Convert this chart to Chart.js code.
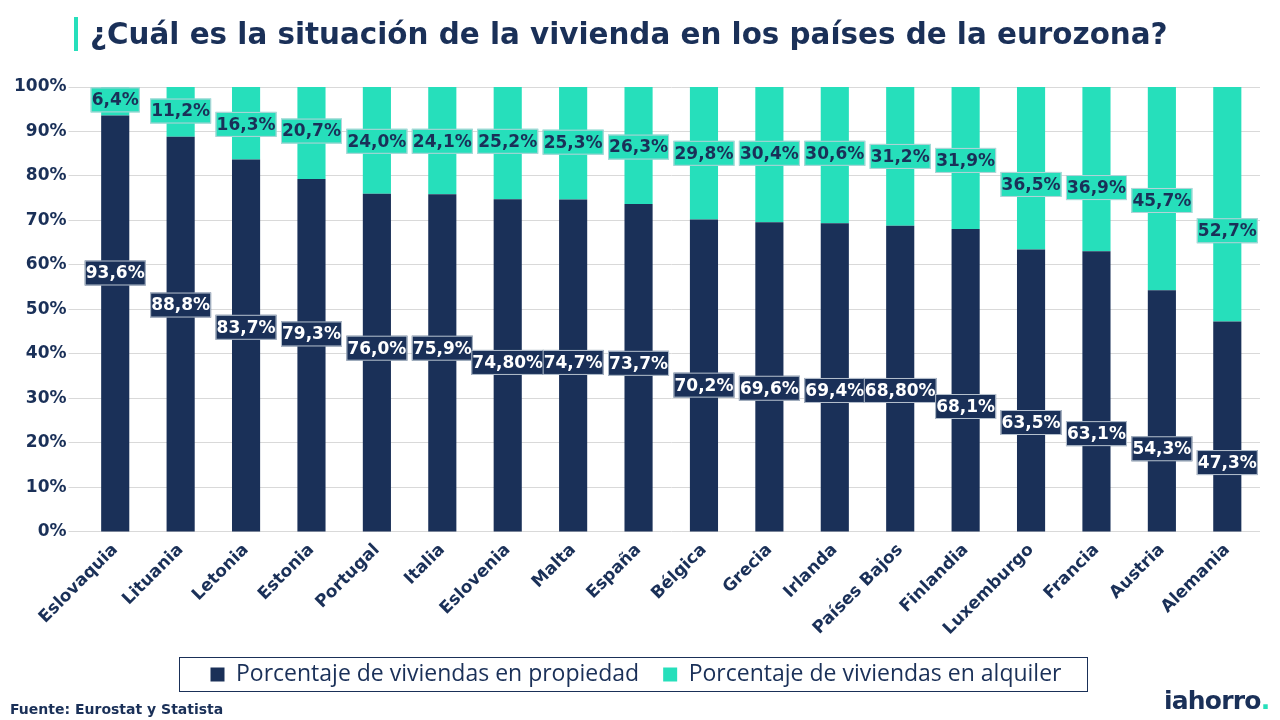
<!DOCTYPE html>
<html>
<head>
<meta charset="utf-8">
<script src="https://cdn.jsdelivr.net/npm/chart.js@4/dist/chart.umd.min.js"></script>
<style>
  html, body { margin: 0; padding: 0; background: #fff; }
  #wrap { position: relative; width: 1280px; height: 720px; overflow: hidden; }
  #chart1 { position: absolute; left: 0; top: 0; }
  #title {
    position: absolute; left: 74px; top: 17px;
    font: bold 29.4px "DejaVu Sans", sans-serif; color: #1a3058;
    border-left: 4px solid #26dfbb; padding-left: 12px; line-height: 34px;
  }
  #source {
    position: absolute; left: 10px; top: 701px;
    font: bold 14px "DejaVu Sans", sans-serif; color: #1a3058;
  }
  #logo {
    position: absolute; left: 1164px; top: 686px;
    font: bold 25px "DejaVu Sans", sans-serif; color: #1a3058; letter-spacing: -0.8px;
  }
  #logo span { color: #26dfbb; }
</style>
</head>
<body>
<div id="wrap">
  <canvas id="chart1" width="1280" height="720"></canvas>
  <div id="title">¿Cuál es la situación de la vivienda en los países de la eurozona?</div>
  <div id="source">Fuente: Eurostat y Statista</div>
  <div id="logo">iahorro<span>.</span></div>
</div>
<script>
const paises = [
  'Eslovaquia', 'Lituania', 'Letonia', 'Estonia', 'Portugal', 'Italia',
  'Eslovenia', 'Malta', 'España', 'Bélgica', 'Grecia', 'Irlanda',
  'Países Bajos', 'Finlandia', 'Luxemburgo', 'Francia', 'Austria', 'Alemania'
];
const propiedad = [93.6, 88.8, 83.7, 79.3, 76.0, 75.9, 74.8, 74.7, 73.7, 70.2, 69.6, 69.4, 68.8, 68.1, 63.5, 63.1, 54.3, 47.3];
const alquiler = [6.4, 11.2, 16.3, 20.7, 24.0, 24.1, 25.2, 25.3, 26.3, 29.8, 30.4, 30.6, 31.2, 31.9, 36.5, 36.9, 45.7, 52.7];
const propiedadText = ['93,6%', '88,8%', '83,7%', '79,3%', '76,0%', '75,9%', '74,80%', '74,7%', '73,7%', '70,2%', '69,6%', '69,4%', '68,80%', '68,1%', '63,5%', '63,1%', '54,3%', '47,3%'];
const alquilerText = ['6,4%', '11,2%', '16,3%', '20,7%', '24,0%', '24,1%', '25,2%', '25,3%', '26,3%', '29,8%', '30,4%', '30,6%', '31,2%', '31,9%', '36,5%', '36,9%', '45,7%', '52,7%'];
const yTicks = [0, 10, 20, 30, 40, 50, 60, 70, 80, 90, 100];

// where the labels sit on the y scale (moved by hand in the original)
const propiedadLabelAt = [58.2, 51.0, 46.0, 44.5, 41.3, 41.3, 38.1, 38.1, 37.9, 33.0, 32.3, 31.8, 31.8, 28.2, 24.6, 22.1, 18.7, 15.6];
const alquilerLabelAt = [97.1, 94.6, 91.6, 90.1, 87.8, 87.8, 87.8, 87.6, 86.5, 85.1, 85.1, 85.1, 84.4, 83.5, 78.1, 77.4, 74.5, 67.7];

const navy = '#1a3058';
const teal = '#26dfbb';

const boxLabels = {
  id: 'boxLabels',
  afterDatasetsDraw(chart) {
    const ctx = chart.ctx;
    const y = chart.scales.y;
    const sets = [
      { meta: chart.getDatasetMeta(0), text: propiedadText, at: propiedadLabelAt, bg: navy, fg: '#fff' },
      { meta: chart.getDatasetMeta(1), text: alquilerText, at: alquilerLabelAt, bg: teal, fg: navy }
    ];
    ctx.save();
    ctx.font = 'bold 17px "DejaVu Sans", sans-serif';
    ctx.textAlign = 'center';
    ctx.textBaseline = 'middle';
    sets.forEach(s => {
      s.meta.data.forEach((bar, i) => {
        const cx = bar.x;
        const cy = y.getPixelForValue(s.at[i]);
        const w = ctx.measureText(s.text[i]).width + 2;
        const h = 25;
        ctx.fillStyle = s.bg;
        ctx.fillRect(cx - w / 2, cy - h / 2, w, h);
        ctx.strokeStyle = 'rgba(200,210,220,0.9)';
        ctx.lineWidth = 1;
        ctx.strokeRect(cx - w / 2 + 0.5, cy - h / 2 + 0.5, w - 1, h - 1);
        ctx.fillStyle = s.fg;
        ctx.fillText(s.text[i], cx, cy + 1);
      });
    });
    ctx.restore();
  }
};

const legendBorder = {
  id: 'legendBorder',
  afterDraw(chart) {
    const lg = chart.legend;
    if (!lg || !lg.legendHitBoxes.length) return;
    const boxes = lg.legendHitBoxes;
    const left = boxes[0].left - 32;
    const right = boxes[boxes.length - 1].left + boxes[boxes.length - 1].width + 25;
    const top = boxes[0].top - 6;
    const ctx = chart.ctx;
    ctx.save();
    ctx.strokeStyle = navy;
    ctx.lineWidth = 1;
    ctx.strokeRect(Math.round(left) + 0.5, Math.round(top) + 0.5, Math.round(right - left), 34);
    ctx.restore();
  }
};

const data = {
  labels: paises,
  datasets: [{
    label: 'Porcentaje de viviendas en propiedad',
    data: propiedad,
    backgroundColor: navy,
    barPercentage: 0.43,
    categoryPercentage: 1
  }, {
    label: 'Porcentaje de viviendas en alquiler',
    data: alquiler,
    backgroundColor: teal,
    barPercentage: 0.43,
    categoryPercentage: 1
  }]
};

const config = {
  type: 'bar',
  data: data,
  options: {
    responsive: false,
    animation: false,
    layout: {
      padding: { top: 87, left: 12, right: 20, bottom: 24 }
    },
    scales: {
      x: {
        stacked: true,
        grid: { display: false },
        border: { display: false },
        ticks: {
          color: navy,
          font: { family: '"DejaVu Sans", sans-serif', size: 17, weight: 'bold' },
          maxRotation: 45,
          minRotation: 45,
          padding: 0
        }
      },
      y: {
        stacked: true,
        min: 0,
        max: 100,
        afterBuildTicks(axis) {
          axis.ticks = yTicks.map(v => ({ value: v }));
        },
        grid: { color: '#d9d9d9', tickLength: 14 },
        border: { display: false },
        ticks: {
          color: navy,
          font: { family: '"DejaVu Sans", sans-serif', size: 17, weight: 'bold' },
          padding: 2,
          callback: v => v + '%'
        }
      }
    },
    plugins: {
      legend: {
        position: 'bottom',
        labels: {
          color: navy,
          font: { family: '"Open Sans", sans-serif', size: 23 },
          boxWidth: 14,
          boxHeight: 14,
          padding: 24
        }
      },
      tooltip: { enabled: false }
    }
  },
  plugins: [boxLabels, legendBorder]
};

var myChart = new Chart(
  document.getElementById('chart1'),
  config
);
</script>
</body>
</html>
